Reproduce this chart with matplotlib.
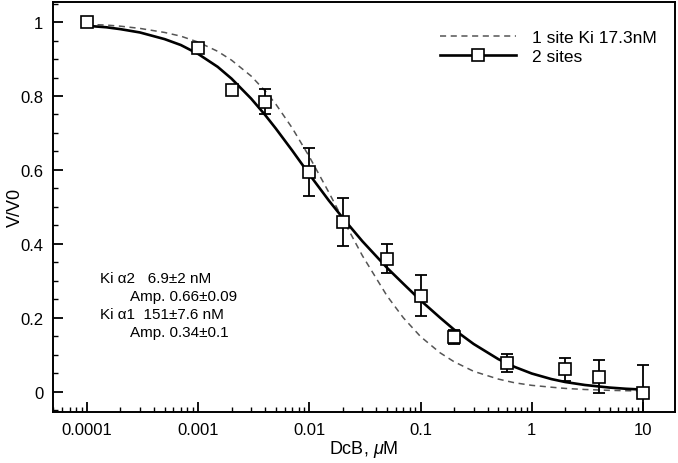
import matplotlib
matplotlib.use("Agg")
import matplotlib.pyplot as plt
from matplotlib.ticker import LogLocator, NullFormatter, MultipleLocator

plt.rcParams['font.family'] = ['Liberation Sans', 'DejaVu Sans']
plt.rcParams['mathtext.fontset'] = 'custom'
plt.rcParams['mathtext.it'] = 'Liberation Sans:italic'
plt.rcParams['mathtext.rm'] = 'Liberation Sans'

# measured points (DcB in uM, V/V0 and error)
conc = [0.0001, 0.001, 0.002, 0.004, 0.01, 0.02, 0.05, 0.1, 0.2, 0.6, 2, 4, 10]
vv0 = [1.0, 0.93, 0.815, 0.785, 0.595, 0.46, 0.36, 0.26, 0.148, 0.078, 0.06, 0.04, -0.005]
err = [0, 0, 0, 0.035, 0.065, 0.065, 0.04, 0.055, 0.02, 0.025, 0.03, 0.045, 0.078]

# fitted curves
curve_x = [0.0001, 0.00015, 0.0002, 0.0003, 0.0005, 0.0007, 0.001, 0.0015, 0.002, 0.003,
           0.004, 0.005, 0.007, 0.01, 0.015, 0.02, 0.03, 0.05, 0.07, 0.1, 0.15, 0.2,
           0.3, 0.5, 0.7, 1, 1.5, 2, 3, 5, 7, 10]
two_sites = [0.990, 0.986, 0.981, 0.972, 0.954, 0.938, 0.914, 0.879, 0.847, 0.793,
             0.749, 0.712, 0.653, 0.588, 0.517, 0.470, 0.407, 0.335, 0.292, 0.247, 0.200, 0.168,
             0.129, 0.088, 0.067, 0.049, 0.034, 0.026, 0.018, 0.011, 0.0078, 0.0055]
one_site = [0.994, 0.992, 0.989, 0.983, 0.972, 0.962, 0.946, 0.921, 0.897, 0.854,
            0.814, 0.778, 0.714, 0.636, 0.539, 0.467, 0.368, 0.259, 0.200, 0.149, 0.105, 0.081,
            0.055, 0.034, 0.024, 0.017, 0.012, 0.0087, 0.0058, 0.0035, 0.0025, 0.0017]

xticks = [0.0001, 0.001, 0.01, 0.1, 1, 10]
xlabels = ['0.0001', '0.001', '0.01', '0.1', '1', '10']
yticks = [0, 0.2, 0.4, 0.6, 0.8, 1]
ylabels = ['0', '0.2', '0.4', '0.6', '0.8', '1']

fig = plt.figure(figsize=(6.78, 4.64), dpi=100)
ax = fig.add_axes([0.078, 0.11, 0.918, 0.884])

ax.plot(curve_x, one_site, '--', color='#555555', lw=1.1, dashes=(4, 3),
        label='1 site Ki 17.3nM')
ax.plot(curve_x, two_sites, '-', color='black', lw=1.9)
ax.errorbar(conc, vv0, yerr=err, fmt='none', ecolor='black', elinewidth=1.3,
            capsize=4.5, capthick=1.3)
ax.plot(conc, vv0, 's', ms=8, mfc='white', mec='black', mew=1.2)

# legend proxy for line + marker
ax.plot([], [], '-s', color='black', lw=1.9, ms=8, mfc='white', mec='black',
        mew=1.2, label='2 sites')

ax.set_xscale('log')
ax.set_xlim(10**-4.305, 10**1.29)
ax.set_ylim(-0.055, 1.055)

ax.set_xticks(xticks)
ax.set_xticklabels(xlabels)
ax.xaxis.set_minor_locator(LogLocator(base=10, subs=range(2, 10), numticks=20))
ax.xaxis.set_minor_formatter(NullFormatter())
ax.set_yticks(yticks)
ax.set_yticklabels(ylabels)
ax.yaxis.set_minor_locator(MultipleLocator(0.05))

ax.tick_params(which='major', direction='in', length=7, width=1.3, labelsize=12,
               top=False, right=False, pad=7)
ax.tick_params(which='minor', direction='in', length=3.5, width=1.0,
               top=False, right=False)
for s in ax.spines.values():
    s.set_linewidth(1.4)

ax.set_xlabel(r'DcB, $\mathit{\mu}$M', fontsize=13, labelpad=1)
ax.set_ylabel('V/V0', fontsize=13)
ax.yaxis.set_label_coords(-0.047, 0.5)

leg = ax.legend(loc='upper right', bbox_to_anchor=(0.995, 0.97), frameon=False,
                fontsize=12.5, handlelength=4.4, numpoints=1, handletextpad=0.9,
                labelspacing=0.25)

ax.text(0.076, 0.318, 'Ki α2   6.9±2 nM', transform=ax.transAxes, fontsize=11)
ax.text(0.124, 0.274, 'Amp. 0.66±0.09', transform=ax.transAxes, fontsize=11)
ax.text(0.076, 0.230, 'Ki α1  151±7.6 nM', transform=ax.transAxes, fontsize=11)
ax.text(0.124, 0.186, 'Amp. 0.34±0.1', transform=ax.transAxes, fontsize=11)

fig.savefig('out.png', dpi=100)
